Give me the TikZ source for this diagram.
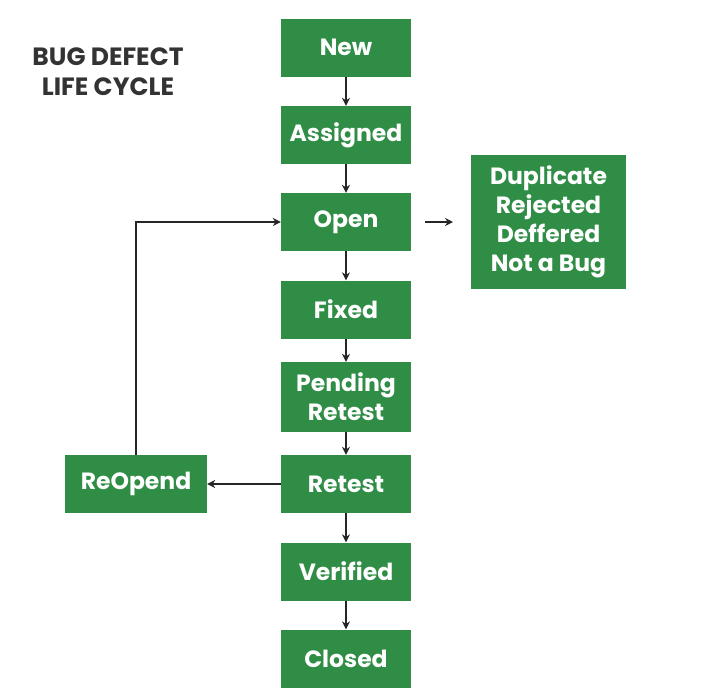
\documentclass[tikz,border=0pt]{standalone}
\usepackage{fontspec}
\setmainfont{Poppins}
\usetikzlibrary{arrows.meta, positioning}
\definecolor{gfgGreen}{HTML}{2F8D46}
\definecolor{titleGray}{HTML}{333333}

\tikzset{
	stage/.style={fill=gfgGreen, text=white, minimum width=130, minimum height=58, inner sep=2, align=center, font=\fontsize{23.5}{29}\selectfont\bfseries},
	flow/.style={draw=black!85, line width=1.4, -{Stealth[length=8, width=8]}}
}

\begin{document}
\begin{tikzpicture}[x=1pt, y=-1pt]
					\useasboundingbox (0,0) rectangle (708,694);
					
					\node[font=\fontsize{25}{30}\selectfont\bfseries, text=titleGray, align=center] (title) at (108,72) {BUG DEFECT\\LIFE CYCLE};
					
					\node[stage] (new) at (346,47.5) {New};
					\node[stage] (assigned) at (346,135) {Assigned};
					\node[stage] (open) at (346,222) {Open};
					\node[stage] (fixed) at (346,309.5) {Fixed};
					\node[stage, minimum height=70] (pending) at (346,397) {Pending\\Retest};
					\node[stage] (retest) at (346,484) {Retest};
					\node[stage] (verified) at (346,571.5) {Verified};
					\node[stage] (closed) at (346,658.5) {Closed};
					
					\node[stage, minimum width=155, minimum height=134] (rejected) at (548.5,222) {Duplicate\\Rejected\\Deffered\\Not a Bug};
					\node[stage, minimum width=142] (reopend) at (136,484) {ReOpend};
					
					\coordinate (sideFrom) at (425,222);
					\coordinate (sideTo) at (453,222);
					
					\draw[flow] (new) -- (assigned);
					\draw[flow] (assigned) -- (open);
					\draw[flow] (open) -- (fixed);
					\draw[flow] (fixed) -- (pending);
					\draw[flow] (pending) -- (retest);
					\draw[flow] (retest) -- (verified);
					\draw[flow] (verified) -- (closed);
					\draw[flow] (retest) -- (reopend);
					\draw[flow] (reopend.north) |- (open.west);
					\draw[flow] (sideFrom) -- (sideTo);
				\end{tikzpicture}
\end{document}
